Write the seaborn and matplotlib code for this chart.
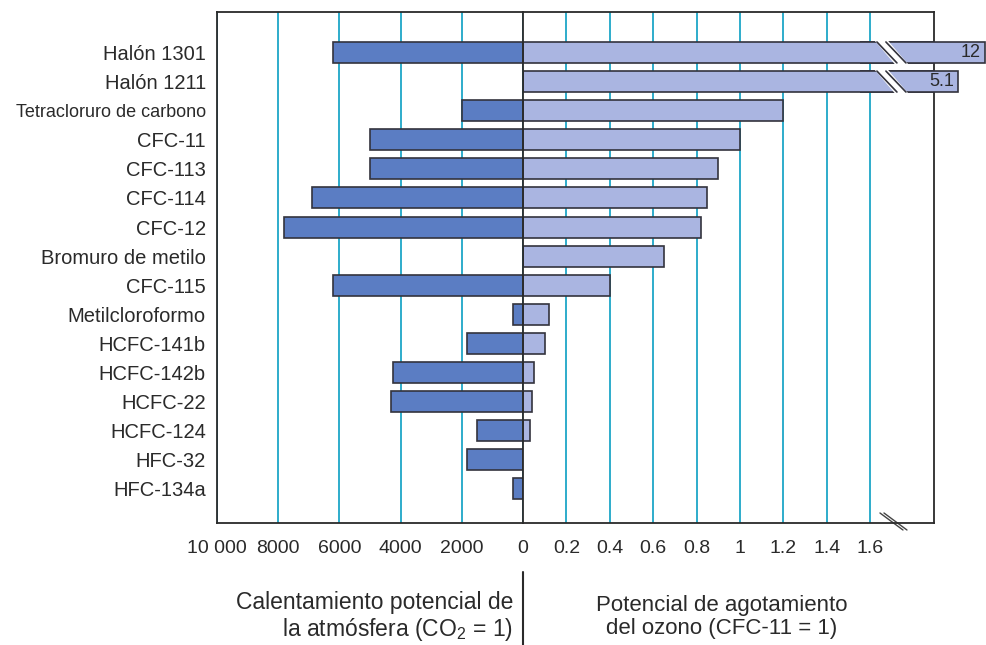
import numpy as np
import pandas as pd
import seaborn as sns
import matplotlib.pyplot as plt
import matplotlib.transforms as mtransforms
from matplotlib.patches import Polygon
from matplotlib.lines import Line2D

# datos
compuestos = ["Halón 1301", "Halón 1211", "Tetracloruro de carbono", "CFC-11", "CFC-113",
              "CFC-114", "CFC-12", "Bromuro de metilo", "CFC-115", "Metilcloroformo",
              "HCFC-141b", "HCFC-142b", "HCFC-22", "HCFC-124", "HFC-32", "HFC-134a"]
calentamiento = [6200, 0, 2000, 5000, 5000, 6900, 7800, 0, 6200, 340,
                 1820, 4240, 4300, 1500, 1820, 340]
agotamiento = [12, 5.1, 1.2, 1.0, 0.9, 0.85, 0.82, 0.65, 0.40, 0.12,
               0.10, 0.05, 0.04, 0.03, 0, 0]
etiquetas_agot = ["12", "5.1"]

ticks_izq = [10000, 8000, 6000, 4000, 2000, 0]
etiquetas_izq = ["10 000", "8000", "6000", "4000", "2000", "0"]
ticks_der = [0.2, 0.4, 0.6, 0.8, 1.0, 1.2, 1.4, 1.6]
etiquetas_der = ["0.2", "0.4", "0.6", "0.8", "1", "1.2", "1.4", "1.6"]
corte = 1.6  # por encima de esto la barra va con eje cortado

df = pd.DataFrame({"compuesto": compuestos,
                   "calentamiento": calentamiento,
                   "agotamiento": agotamiento})

azul_osc = "#5b7dc3"
azul_cla = "#aab5e1"
borde = "#33333d"
cian = "#2eaccb"
negro = "#2a2a2a"

sns.set_style("white")
plt.rcParams['font.family'] = ['Liberation Sans', 'DejaVu Sans']
plt.rcParams['mathtext.fontset'] = 'custom'
plt.rcParams['mathtext.rm'] = 'Liberation Sans'
plt.rcParams['text.color'] = negro
plt.rcParams['xtick.color'] = negro
plt.rcParams['ytick.color'] = negro

W, H = 986, 645
fig = plt.figure(figsize=(W / 100, H / 100), dpi=100)


def caja(x0, x1, y0=12, y1=523):
    return [x0 / W, 1 - y1 / H, (x1 - x0) / W, (y1 - y0) / H]


ax_l = fig.add_axes(caja(217, 523))
ax_r = fig.add_axes(caja(523, 934))
ax_e = fig.add_axes(caja(860, 986), zorder=2)

ylim = (16.17, -1.39)
estilo = dict(y="compuesto", order=compuestos, orient="h", saturation=1,
              edgecolor=borde, linewidth=1.2, width=0.72)

# lado izquierdo: calentamiento potencial
izq = df[df.calentamiento > 0]
sns.barplot(data=izq, x="calentamiento", color=azul_osc, ax=ax_l, **estilo)
ax_l.set_xlim(10000, 0)
ax_l.set_ylim(*ylim)
ax_l.set_xticks(ticks_izq, etiquetas_izq)
ax_l.grid(axis="x", color=cian, lw=1.4)
ax_l.set_axisbelow(True)
ax_l.tick_params(axis="both", length=0)
ax_l.tick_params(axis="x", pad=12, labelsize=14)
ax_l.tick_params(axis="y", pad=8, labelsize=14.5)
for t in ax_l.get_yticklabels():
    if len(t.get_text()) > 20:
        t.set_fontsize(13)
ax_l.set_xlabel("")
ax_l.set_ylabel("")
ax_l.spines["right"].set_visible(False)
for s in ["left", "top", "bottom"]:
    ax_l.spines[s].set_color(negro)
    ax_l.spines[s].set_linewidth(1.3)

# lado derecho: potencial de agotamiento del ozono
der = df[df.agotamiento > 0]
sns.barplot(data=der, x="agotamiento", color=azul_cla, ax=ax_r, **estilo)
ax_r.set_xlim(0, 1.894)
ax_r.set_ylim(*ylim)
ax_r.set_xticks(ticks_der, etiquetas_der)
ax_r.grid(axis="x", color=cian, lw=1.4)
ax_r.set_axisbelow(True)
ax_r.tick_params(axis="x", length=0, labelsize=14, pad=12)
ax_r.tick_params(axis="y", left=False, labelleft=False)
ax_r.set_xlabel("")
ax_r.set_ylabel("")
for s in ax_r.spines.values():
    s.set_color(negro)
    s.set_linewidth(1.3)

# tramo despues del corte (halones)
ext = df[df.agotamiento > corte]
sns.barplot(data=ext, x="agotamiento", color=azul_cla, ax=ax_e, **estilo)
ax_e.set_xscale("log")
ax_e.set_xlim(0.2285, 12.39)
ax_e.set_ylim(*ylim)
ax_e.axis("off")

desplaza = mtransforms.offset_copy(ax_e.transData, fig=fig, x=-4, y=0, units="dots")
for comp, v, lab in zip(ext.compuesto, ext.agotamiento, etiquetas_agot):
    ax_e.text(v, compuestos.index(comp), lab, transform=desplaza,
              ha="right", va="center", fontsize=13)

# marcas de corte sobre las barras
x0, inclina, hueco = 1.631, 20 / 217, 9 / 217
for comp in ext.compuesto:
    i = compuestos.index(comp)
    arriba, abajo = i - 0.36, i + 0.36
    fig.add_artist(Polygon([(x0 - 0.01, arriba - 0.04), (x0 + hueco + 0.01, arriba - 0.04),
                            (x0 + inclina + hueco + 0.01, abajo + 0.04), (x0 + inclina - 0.01, abajo + 0.04)],
                           closed=True, transform=ax_r.transData, facecolor="white",
                           edgecolor="none", zorder=5))
    for dx in [0, hueco]:
        fig.add_artist(Line2D([x0 + dx, x0 + dx + inclina], [arriba, abajo],
                              transform=ax_r.transData, color=borde, lw=1.2, zorder=6))

# marcas de corte en el eje inferior
mezcla = mtransforms.blended_transform_factory(ax_r.transData, ax_r.transAxes)
for dx in [0, 4 / 217]:
    ax_r.add_line(Line2D([1.645 + dx, 1.751 + dx], [0.0196, -0.0137], transform=mezcla,
                         color="#444444", lw=1, clip_on=False))

# separador y titulos inferiores
sep = mtransforms.blended_transform_factory(ax_r.transData, fig.transFigure)
fig.add_artist(Line2D([0, 0], [1 - 572 / H, 0], transform=sep, color=negro, lw=1.5))

fig.text(513 / W, 1 - 617 / H, "Calentamiento potencial de\nla atmósfera (CO$_\\mathrm{2}$ = 1)",
         ha="right", va="center", multialignment="right", fontsize=16.5, linespacing=1.1)
fig.text(722 / W, 1 - 617 / H, "Potencial de agotamiento\ndel ozono (CFC-11 = 1)",
         ha="center", va="center", multialignment="center", fontsize=16, linespacing=1.1)

fig.savefig("out.png", dpi=100)
